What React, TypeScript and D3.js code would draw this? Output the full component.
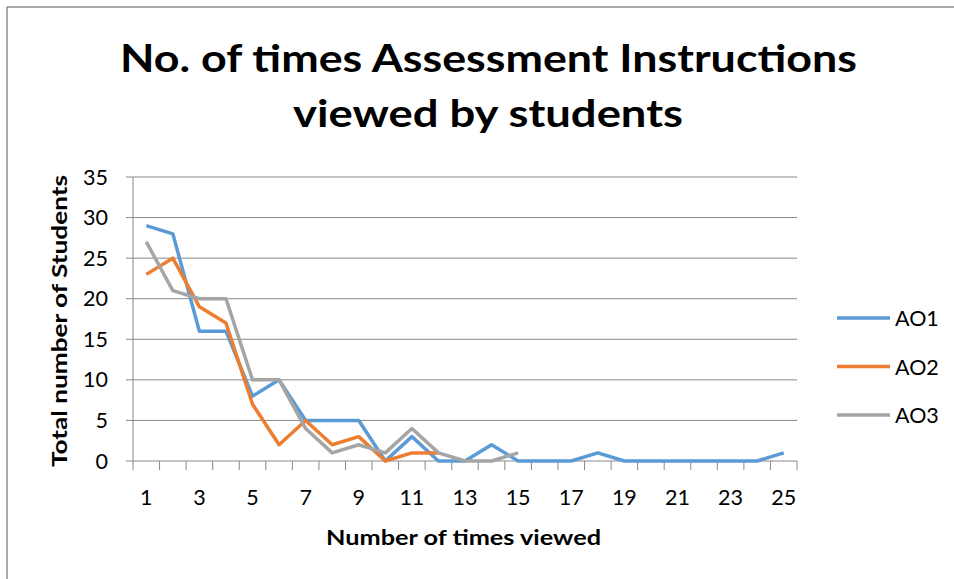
import React from "react";
import { scaleBand, scaleLinear, line, range } from "d3";

// Datos
const views = range(1, 26);
const ao1 = [29, 28, 16, 16, 8, 10, 5, 5, 5, 0, 3, 0, 0, 2, 0, 0, 0, 1, 0, 0, 0, 0, 0, 0, 1];
const ao2 = [23, 25, 19, 17, 7, 2, 5, 2, 3, 0, 1, 1];
const ao3 = [27, 21, 20, 20, 10, 10, 4, 1, 2, 1, 4, 1, 0, 0, 1];
const yTicks = [0, 5, 10, 15, 20, 25, 30, 35];
const xLabels = [1, 3, 5, 7, 9, 11, 13, 15, 17, 19, 21, 23, 25];

const series = [
  { name: "AO1", values: ao1, color: "#5B9BD5" },
  { name: "AO2", values: ao2, color: "#ED7D31" },
  { name: "AO3", values: ao3, color: "#A5A5A5" },
];

const font = "Lato, 'Open Sans', sans-serif";

const App: React.FC = () => {
  const left = 133;
  const right = 797;
  const top = 177;
  const bottom = 461;

  const xBand = scaleBand<number>().domain(views).range([left, right]);
  const xc = (v: number) => (xBand(v) ?? 0) + xBand.bandwidth() / 2;
  const y = scaleLinear().domain([0, 35]).range([bottom, top]);

  const path = line<number>()
    .x((_, i) => xc(views[i]))
    .y((d) => y(d));

  const grid = "#888888";

  return (
    <svg
      width={954}
      height={579}
      style={{ position: "absolute", left: 0, top: 0, background: "#fff" }}
      fontFamily={font}
    >
      {/* Marco */}
      <line x1={7} y1={7} x2={954} y2={7} stroke="#8c8c8c" strokeWidth={1.5} />
      <line x1={7} y1={7} x2={7} y2={579} stroke="#8c8c8c" strokeWidth={1.5} />

      {/* Título */}
      <text
        x={488.5}
        y={72}
        textAnchor="middle"
        fontSize={38}
        fontWeight={700}
        fill="#000"
        textLength={737}
        lengthAdjust="spacingAndGlyphs"
      >
        No. of times Assessment Instructions
      </text>
      <text
        x={488}
        y={127}
        textAnchor="middle"
        fontSize={38}
        fontWeight={700}
        fill="#000"
        textLength={390}
        lengthAdjust="spacingAndGlyphs"
      >
        viewed by students
      </text>

      {/* Cuadrícula y eje Y */}
      {yTicks.map((t) => (
        <g key={t}>
          <line x1={126} x2={right} y1={y(t)} y2={y(t)} stroke={grid} strokeWidth={1} />
          <text x={108} y={y(t) + 7.5} textAnchor="end" fontSize={21.5} fill="#000">
            {t}
          </text>
        </g>
      ))}
      <line x1={left} x2={left} y1={top} y2={bottom} stroke={grid} strokeWidth={1} />

      {/* Eje X */}
      {[...views.map((v) => xBand(v) ?? 0), right].map((x, i) => (
        <line key={i} x1={x} x2={x} y1={bottom} y2={bottom + 9} stroke={grid} strokeWidth={1} />
      ))}
      {xLabels.map((v) => (
        <text key={v} x={xc(v)} y={505} textAnchor="middle" fontSize={21.5} fill="#000">
          {v}
        </text>
      ))}

      {/* Líneas */}
      {series.map((s) => (
        <path
          key={s.name}
          d={path(s.values) ?? ""}
          fill="none"
          stroke={s.color}
          strokeWidth={3.5}
          strokeLinejoin="round"
        />
      ))}

      {/* Títulos de ejes */}
      <text
        x={463.5}
        y={545}
        textAnchor="middle"
        fontSize={21}
        fontWeight={700}
        fill="#000"
        textLength={275}
        lengthAdjust="spacingAndGlyphs"
      >
        Number of times viewed
      </text>
      <text
        transform="translate(67,321) rotate(-90)"
        textAnchor="middle"
        fontSize={21}
        fontWeight={700}
        fill="#000"
        textLength={292}
        lengthAdjust="spacingAndGlyphs"
      >
        Total number of Students
      </text>

      {/* Leyenda */}
      {series.map((s, i) => {
        const ly = 318 + i * 48.5;
        return (
          <g key={s.name}>
            <line x1={837} x2={890} y1={ly} y2={ly} stroke={s.color} strokeWidth={3.5} />
            <text x={895} y={ly + 8} fontSize={21.5} fill="#000">
              {s.name}
            </text>
          </g>
        );
      })}
    </svg>
  );
};

export default App;
